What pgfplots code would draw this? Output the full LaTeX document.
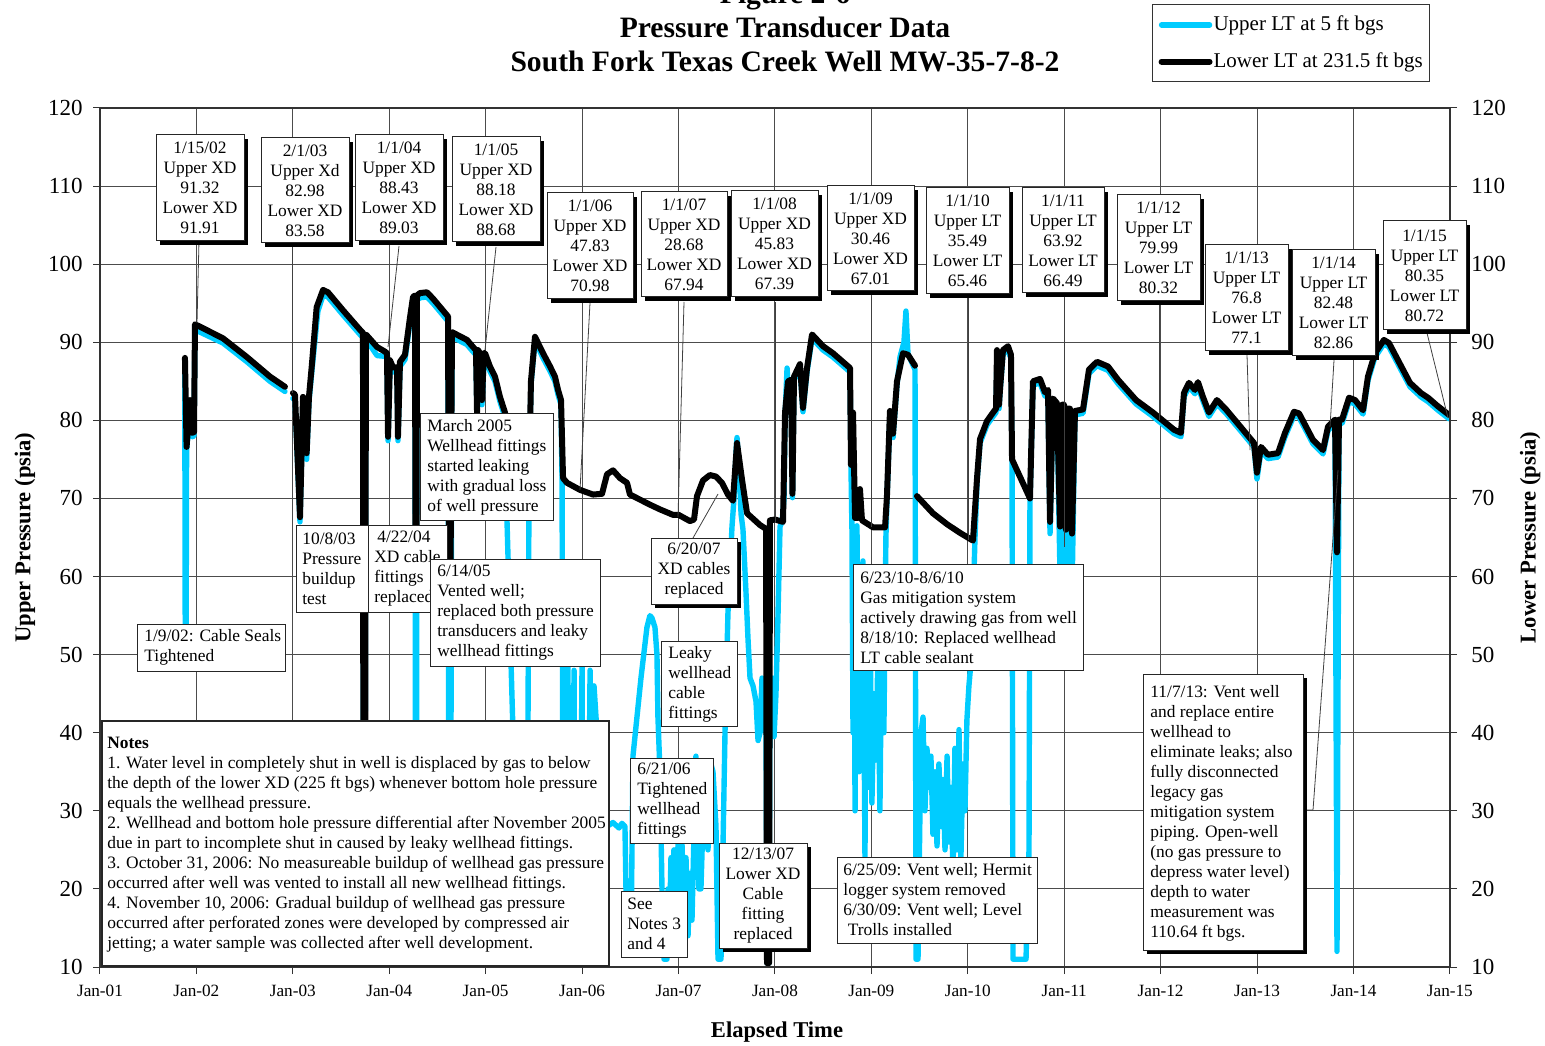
\documentclass[border=0pt]{standalone}
\usepackage{fontspec}
\setmainfont{Liberation Serif}
\usepackage{pgfplots}
\pgfplotsset{compat=1.18}
\definecolor{upc}{RGB}{0,204,255}
\newcommand{\ann}{\fontsize{8.7}{10}\selectfont}
\tikzset{
  bxs/.style={draw=black!85, fill=white, line width=0.5pt},
  annc/.style={font=\ann, align=center, inner sep=0pt},
  annl/.style={font=\ann, align=left, anchor=west, inner sep=0pt},
  ptr/.style={draw=black!75, line width=0.4pt}
}
\newcommand{\shbox}[4]{\fill[black] ({#1+4},{#2+4}) rectangle ({#3+4},{#4+4}); \draw[bxs] (#1,#2) rectangle (#3,#4);}
\newcommand{\plbox}[4]{\draw[bxs] (#1,#2) rectangle (#3,#4);}
\begin{document}
\begin{tikzpicture}
\useasboundingbox (-50pt,-39pt) rectangle (722.5pt,483.5pt);
\begin{axis}[
  at={(0,0)}, anchor=south west, scale only axis, width=675pt, height=429.5pt,
  xmin=2001, xmax=2015, ymin=10, ymax=120,
  xtick={2001,2002,...,2015},
  xticklabels={Jan-01,Jan-02,Jan-03,Jan-04,Jan-05,Jan-06,Jan-07,Jan-08,Jan-09,Jan-10,Jan-11,Jan-12,Jan-13,Jan-14,Jan-15},
  ytick={10,20,...,120},
  grid=major, major grid style={black!70, line width=0.5pt},
  tick align=outside, xtick pos=left, ytick pos=left, major tick length=3.5pt,
  tick style={black!80, line width=0.5pt},
  axis line style={black!80, line width=0.6pt},
  /pgf/number format/assume math mode=true,
  yticklabel={\pgfmathprintnumber{\tick}},
  yticklabel style={font=\fontsize{11.5}{13}\selectfont, xshift=-1.7pt},
  xticklabel style={font=\fontsize{8.6}{10}\selectfont, yshift=-2pt},
  ylabel={\textbf{Upper Pressure (psia)}},
  ylabel style={font=\fontsize{11.3}{13}\selectfont, at={(axis description cs:-0.0556,0.5)}, anchor=center},
  xlabel={\textbf{Elapsed Time}},
  xlabel style={font=\fontsize{11.3}{13}\selectfont, at={(axis description cs:0.5015,-0.0757)}, anchor=center},
  unbounded coords=jump,
  legend style={at={(0.7793,1.1205)}, anchor=north west, draw=black!80, line width=0.5pt, fill=white,
    font=\fontsize{10.5}{12}\selectfont, inner xsep=3pt, inner ysep=4pt, row sep=6.5pt,
    nodes={inner xsep=0.5pt, inner ysep=1.5pt}},
  legend cell align=left,
  legend image code/.code={\draw[#1] (0pt,0pt) -- (24pt,0pt);}
]
\addplot[upc, line width=2.7pt, line join=round, line cap=round] coordinates {
(2001.879,87.5)(2001.884,52)(2001.893,52)(2001.898,76.1)(2001.933,82.1)(2001.951,77.9)(2001.975,78.0)(2001.985,91.5)
(2002.037,91.3)(2002.276,89.9)(2002.524,87.5)(2002.763,85.0)(2002.918,83.7)(2002.95,nan)
(2003.001,82.8)(2003.022,82.7)(2003.074,67.0)(2003.105,82.4)(2003.126,82.0)(2003.143,75.0)(2003.167,82.4)(2003.195,86.0)
(2003.247,92.5)(2003.260,94.0)(2003.313,96.0)(2003.364,95.8)(2003.520,93.5)(2003.696,91.0)(2003.727,90.6)(2003.732,20)
(2003.748,20)(2003.758,90.4)(2003.873,88.3)(2003.955,88.2)(2003.976,88.0)(2003.987,77.4)(2004.007,87.1)(2004.038,86.2)
(2004.080,86.2)(2004.090,77.4)(2004.111,86.9)(2004.163,87.8)(2004.215,92.6)(2004.246,95.2)(2004.267,95.4)(2004.272,15)
(2004.282,15)(2004.287,95.4)(2004.318,95.7)(2004.391,95.8)(2004.453,95.0)(2004.609,92.7)(2004.619,15)(2004.635,15)
(2004.650,90.7)(2004.806,89.7)(2004.868,88.8)(2004.899,88.4)(2004.910,80.4)(2004.920,88.4)(2004.941,88.0)(2004.961,82.0)
(2004.982,88.0)(2004.993,88.0)(2005.044,86.3)(2005.096,85.0)(2005.148,82.4)(2005.200,80.4)(2005.221,67)(2005.283,40)
(2005.304,15)(2005.418,15)(2005.438,40)(2005.449,71.5)(2005.469,84.5)(2005.511,90.2)(2005.594,88.0)(2005.667,86.3)
(2005.718,85.0)(2005.750,83.3)(2005.781,82.0)(2005.792,72)(2005.802,15)(2005.833,15)(2005.853,48.5)(2005.864,15)
(2005.895,15)(2005.916,48)(2005.926,15)(2005.978,15)(2005.999,49)(2006.009,15)(2006.061,15)(2006.082,48)(2006.092,15)
(2006.123,46)(2006.154,40)(2006.185,28)(2006.258,28)(2006.320,28.5)(2006.382,27.8)(2006.413,28.4)(2006.444,28)
(2006.465,12)(2006.506,12)(2006.527,37)(2006.610,47)(2006.672,53.5)(2006.703,55)(2006.724,54.7)(2006.755,53.5)
(2006.776,50)(2006.786,42)(2006.807,35)(2006.828,20)(2006.849,11)(2006.880,11)(2006.890,20)(2006.901,12)(2006.921,24)
(2006.932,14)(2006.952,25)(2006.963,15)(2006.984,23)(2007.004,28)(2007.025,17)(2007.035,26)(2007.056,17)(2007.077,24)
(2007.098,14)(2007.118,22)(2007.139,16)(2007.160,27)(2007.180,37)(2007.191,30)(2007.211,20)(2007.232,20)(2007.263,33)
(2007.305,25)(2007.336,36)(2007.357,35)(2007.388,28)(2007.409,11)(2007.430,11)(2007.440,11)(2007.482,40.4)(2007.512,55.3)
(2007.554,66.4)(2007.575,70)(2007.596,76)(2007.606,77.8)(2007.627,74)(2007.648,68)(2007.668,66)(2007.699,58)(2007.720,52)
(2007.741,47)(2007.772,46)(2007.803,44)(2007.824,39)(2007.845,40)(2007.865,47)(2007.886,43)(2007.907,40)(2007.917,10.5)
(2007.938,10.5)(2007.948,45)(2007.969,47)(2007.990,39.5)(2008.010,45)(2008.031,55)(2008.052,66.4)(2008.073,67)(2008.094,70)
(2008.104,80.5)(2008.125,86.7)(2008.135,84.5)(2008.166,84.7)(2008.181,70.1)(2008.197,85.1)(2008.259,86.7)(2008.290,81.1)
(2008.332,86.2)(2008.384,90.5)(2008.498,89.0)(2008.601,88.1)(2008.778,86.2)(2008.788,73.8)(2008.798,66)(2008.809,40)
(2008.819,66)(2008.830,30)(2008.850,66.5)(2008.871,35)(2008.881,60)(2008.902,39)(2008.912,62)(2008.933,24)(2008.943,50)
(2008.964,33)(2008.985,55)(2009.005,31)(2009.026,45)(2009.046,36.5)(2009.067,50)(2009.088,30)(2009.108,55)(2009.129,40)
(2009.150,65)(2009.161,69.8)(2009.192,80.7)(2009.224,77.8)(2009.265,84.5)(2009.296,88.1)(2009.337,90)(2009.358,94)
(2009.379,88.5)(2009.452,86.5)(2009.462,11)(2009.483,11)(2009.514,40)(2009.535,42)(2009.555,30)(2009.576,38)(2009.597,33)
(2009.617,37)(2009.638,27)(2009.659,35)(2009.680,25.5)(2009.700,36)(2009.721,28)(2009.742,34)(2009.763,25)(2009.784,37)
(2009.804,26)(2009.825,33)(2009.846,22)(2009.866,38)(2009.887,25)(2009.908,40.4)(2009.928,24)(2009.949,36)(2009.970,30)
(2009.990,41.6)(2010.011,46)(2010.032,49)(2010.053,56)(2010.074,65)(2010.095,72.1)(2010.126,77.1)(2010.198,79.4)
(2010.261,80.5)(2010.292,81.0)(2010.302,88.5)(2010.323,81.5)(2010.333,83.4)(2010.364,88.5)(2010.416,89.0)(2010.447,87.9)
(2010.458,74.5)(2010.468,11)(2010.603,11)(2010.634,25)(2010.644,69.5)(2010.675,84.5)(2010.748,84.8)(2010.800,83.1)
(2010.831,83.4)(2010.852,65.5)(2010.883,82.3)(2010.924,81.7)(2010.956,60)(2010.976,81.5)(2010.997,81.5)(2011.017,58)
(2011.038,81.0)(2011.059,81.0)(2011.080,58)(2011.111,80.7)(2011.194,80.9)(2011.256,86.0)(2011.339,87.0)(2011.453,86.4)
(2011.557,84.7)(2011.744,82.1)(2011.920,80.5)(2012.138,78.3)(2012.210,77.9)(2012.241,83.0)(2012.293,84.3)(2012.355,83.4)
(2012.386,84.4)(2012.438,82.5)(2012.500,80.5)(2012.583,82.1)(2012.677,80.9)(2012.853,78.3)(2012.967,76.6)(2012.998,72.5)
(2013.040,76.1)(2013.112,75.1)(2013.216,75.3)(2013.289,77.9)(2013.382,80.6)(2013.434,80.4)(2013.579,77.0)(2013.683,75.7)
(2013.735,78.7)(2013.807,79.6)(2013.828,12)(2013.849,79.6)(2013.880,79.6)(2013.953,82.4)(2014.015,82.1)(2014.098,80.8)
(2014.149,85.1)(2014.222,88.1)(2014.315,89.8)(2014.367,89.4)(2014.512,86.0)(2014.585,84.3)(2014.699,83.0)(2014.772,82.4)
(2014.875,81.3)(2014.990,80.2)
};
\addlegendentry{Upper LT at 5 ft bgs}
\addplot[black, line width=3pt, line join=round, line cap=round] coordinates {
(2001.881,88.0)(2001.898,76.6)(2001.933,82.6)(2001.951,78.4)(2001.975,78.5)(2001.985,92.3)(2002.037,92.0)(2002.276,90.5)
(2002.524,88.1)(2002.763,85.6)(2002.918,84.3)(2002.95,nan)(2003.001,83.5)(2003.022,83.3)(2003.074,67.6)(2003.105,83.0)
(2003.126,82.6)(2003.143,75.8)(2003.167,83.0)(2003.195,86.8)(2003.247,94.5)(2003.313,96.7)(2003.364,96.4)(2003.520,94.1)
(2003.696,91.6)(2003.727,91.2)(2003.732,20)(2003.748,20)(2003.758,91.0)(2003.873,89.4)(2003.955,88.8)(2003.976,88.6)
(2003.987,77.9)(2004.007,87.7)(2004.038,86.8)(2004.080,86.8)(2004.090,77.9)(2004.111,87.5)(2004.163,88.4)(2004.215,93.2)
(2004.246,95.8)(2004.267,96.0)(2004.272,58)(2004.282,58)(2004.287,96.0)(2004.318,96.3)(2004.391,96.4)(2004.453,95.6)
(2004.609,93.3)(2004.619,60)(2004.635,60)(2004.650,91.3)(2004.806,90.3)(2004.868,89.4)(2004.899,89.0)(2004.910,81.0)
(2004.920,89.0)(2004.941,88.6)(2004.961,82.6)(2004.982,88.6)(2004.993,88.6)(2005.044,86.9)(2005.096,85.6)(2005.148,83.0)
(2005.200,81.0)(2005.221,72)(2005.3,nan)(2005.449,72)(2005.469,85)(2005.511,90.7)(2005.594,88.6)(2005.667,86.9)
(2005.718,85.6)(2005.750,83.9)(2005.781,82.6)(2005.802,72.6)(2005.843,72.0)(2005.978,71.1)(2006.113,70.5)(2006.206,70.6)
(2006.258,73.1)(2006.320,73.6)(2006.393,72.6)(2006.465,72.0)(2006.496,70.5)(2006.704,69.2)(2006.807,68.6)(2006.942,67.9)
(2007.000,67.9)(2007.118,67.1)(2007.160,67.3)(2007.191,70.3)(2007.253,72.3)(2007.325,73.0)(2007.388,72.8)(2007.450,72.0)
(2007.512,70.5)(2007.564,69.7)(2007.606,77.1)(2007.658,72.4)(2007.710,68.1)(2007.844,66.6)(2007.907,66.1)(2007.917,10.5)
(2007.938,10.5)(2007.948,67.2)(2008.000,67.3)(2008.083,67.0)(2008.104,81.0)(2008.135,85.0)(2008.166,85.2)(2008.181,70.6)
(2008.197,85.6)(2008.259,87.2)(2008.290,81.6)(2008.332,86.7)(2008.384,91.0)(2008.498,89.5)(2008.601,88.6)(2008.778,86.7)
(2008.788,74.3)(2008.809,81.0)(2008.830,67.5)(2008.861,67.5)(2008.881,71.2)(2008.902,67.2)(2009.016,66.3)(2009.141,66.3)
(2009.161,70.3)(2009.192,81.2)(2009.224,78.3)(2009.265,85.0)(2009.327,88.6)(2009.379,88.4)(2009.452,87.0)(2009.46,nan)
(2009.472,70.3)(2009.638,68.1)(2009.784,66.7)(2009.918,65.6)(2010.053,64.6)(2010.095,72.6)(2010.126,77.6)(2010.198,79.9)
(2010.261,81.0)(2010.292,81.5)(2010.302,89.0)(2010.323,82.0)(2010.333,83.9)(2010.364,89.0)(2010.416,89.5)(2010.447,88.4)
(2010.458,75.0)(2010.644,70.0)(2010.675,85.0)(2010.748,85.3)(2010.800,83.6)(2010.831,83.9)(2010.852,67.0)(2010.883,82.8)
(2010.924,82.2)(2010.956,66.4)(2010.976,82.0)(2010.997,82.0)(2011.017,66.0)(2011.038,81.5)(2011.059,81.5)(2011.080,65.5)
(2011.111,81.2)(2011.194,81.4)(2011.256,86.5)(2011.339,87.5)(2011.453,86.9)(2011.557,85.2)(2011.744,82.6)(2011.920,81.0)
(2012.138,78.8)(2012.210,78.4)(2012.241,83.5)(2012.293,84.8)(2012.355,83.9)(2012.386,84.9)(2012.438,83.0)(2012.500,81.0)
(2012.583,82.6)(2012.677,81.4)(2012.853,78.8)(2012.967,77.1)(2012.998,73.3)(2013.040,76.6)(2013.112,75.6)(2013.216,75.8)
(2013.289,78.4)(2013.382,81.1)(2013.434,80.9)(2013.579,77.5)(2013.683,76.2)(2013.735,79.2)(2013.807,80.1)(2013.828,63.1)
(2013.849,80.1)(2013.880,80.1)(2013.953,82.9)(2014.015,82.6)(2014.098,81.3)(2014.149,85.6)(2014.222,88.6)(2014.315,90.3)
(2014.367,89.9)(2014.512,86.5)(2014.585,84.8)(2014.699,83.5)(2014.772,82.9)(2014.875,81.8)(2014.990,80.7)
};
\addlegendentry{Lower LT at 231.5 ft bgs}
\end{axis}
\begin{axis}[
  at={(0,0)}, anchor=south west, scale only axis, width=675pt, height=429.5pt,
  xmin=2001, xmax=2015, ymin=10, ymax=120,
  axis x line=none, axis y line*=right,
  ytick={10,20,...,120}, tick align=outside, major tick length=3.5pt,
  tick style={black!80, line width=0.5pt},
  y axis line style={black!80, line width=0.6pt},
  /pgf/number format/assume math mode=true,
  yticklabel={\pgfmathprintnumber{\tick}},
  yticklabel style={font=\fontsize{11.5}{13}\selectfont, xshift=3.7pt},
  ylabel={\textbf{Lower Pressure (psia)}},
  ylabel style={font=\fontsize{11.3}{13}\selectfont, at={(axis description cs:1.0593,0.5)}, anchor=center}
]
\addplot[draw=none] coordinates {(2001,10)};
\end{axis}
\begin{scope}[shift={(-50pt,483.5pt)}, x=0.5pt, y=-0.5pt]
% titles
\node[font=\fontsize{14.8}{17}\selectfont\bfseries, anchor=base] at (785,4) {Figure 2-6};
\node[font=\fontsize{14.8}{17}\selectfont\bfseries, anchor=base] at (785,38) {Pressure Transducer Data};
\node[font=\fontsize{14.8}{17}\selectfont\bfseries, anchor=base] at (785,72) {South Fork Texas Creek Well MW-35-7-8-2};
% pointers
\draw[ptr] (199,241) -- (197,323);
\draw[ptr] (292,243) -- (292,393);
\draw[ptr] (399,246) -- (388,347);
\draw[ptr] (496,247) -- (485,350);
\draw[ptr] (590,303) -- (580,490);
\draw[ptr] (684,302) -- (678,517);
\draw[ptr] (775,302) -- (775,523);
\draw[ptr] (871,297) -- (871,527);
\draw[ptr] (968,298) -- (968,540);
\draw[ptr] (1064,298) -- (1064,547);
\draw[ptr] (1159,305) -- (1159,420);
\draw[ptr] (1247,355) -- (1250,450);
\draw[ptr] (1334,360) -- (1330,427);
\draw[ptr] (1427,333) -- (1448,418);
\draw[ptr] (693,538) -- (718,494);
\draw[ptr] (1307,810) -- (1313,810) -- (1338,470);
% top boxes
\shbox{156}{135}{244}{241} \node[annc] at (200,188) {1/15/02\\Upper XD\\91.32\\Lower XD\\91.91};
\shbox{261}{138}{349}{243} \node[annc] at (305,190.5) {2/1/03\\Upper Xd\\82.98\\Lower XD\\83.58};
\shbox{355}{135}{443}{241} \node[annc] at (399,188) {1/1/04\\Upper XD\\88.43\\Lower XD\\89.03};
\shbox{452}{137}{540}{242} \node[annc] at (496,189.5) {1/1/05\\Upper XD\\88.18\\Lower XD\\88.68};
\shbox{547}{193}{633}{299} \node[annc] at (590,246) {1/1/06\\Upper XD\\47.83\\Lower XD\\70.98};
\shbox{641}{192}{727}{297} \node[annc] at (684,244.5) {1/1/07\\Upper XD\\28.68\\Lower XD\\67.94};
\shbox{731}{191}{818}{297} \node[annc] at (774.5,244) {1/1/08\\Upper XD\\45.83\\Lower XD\\67.39};
\shbox{827}{186}{914}{291} \node[annc] at (870.5,238.5) {1/1/09\\Upper XD\\30.46\\Lower XD\\67.01};
\shbox{926}{188}{1009}{294} \node[annc] at (967.5,241) {1/1/10\\Upper LT\\35.49\\Lower LT\\65.46};
\shbox{1022}{188}{1104}{293} \node[annc] at (1063,240.5) {1/1/11\\Upper LT\\63.92\\Lower LT\\66.49};
\shbox{1117}{195}{1200}{301} \node[annc] at (1158.5,248) {1/1/12\\Upper LT\\79.99\\Lower LT\\80.32};
\shbox{1205}{245}{1288}{351} \node[annc] at (1246.5,298) {1/1/13\\Upper LT\\76.8\\Lower LT\\77.1};
\shbox{1292}{250}{1375}{356} \node[annc] at (1333.5,303) {1/1/14\\Upper LT\\82.48\\Lower LT\\82.86};
\shbox{1383}{221}{1466}{330} \node[annc] at (1424.5,275.5) {1/1/15\\Upper LT\\80.35\\Lower LT\\80.72};
% other boxes
\plbox{137}{624}{285}{671} \node[annl] at (144,647.5) {1/9/02: Cable Seals\\Tightened};
\plbox{296}{525}{368}{612} \node[annl] at (302,568.5) {10/8/03\\Pressure\\buildup\\test};
\plbox{368}{525}{447}{612} \node[annl] at (374,568.5) {\,4/22/04\\XD cable\\fittings\\replaced};
\plbox{430}{559}{600}{666} \node[annl] at (437,612.5) {6/14/05\\Vented well;\\replaced both pressure\\transducers and leaky\\wellhead fittings};
\plbox{420}{414}{553}{520} \node[annl] at (427,467) {March 2005\\Wellhead fittings\\started leaking\\with gradual loss\\of well pressure};
\draw[bxs, line width=1pt] (102,721) rectangle (609,966);
\node[annl] at (107,845) {\textbf{Notes}\\
1. Water level in completely shut in well is displaced by gas to below\\
the depth of the lower XD (225 ft bgs) whenever bottom hole pressure\\
equals the wellhead pressure.\\
2. Wellhead and bottom hole pressure differential after November 2005\\
due in part to incomplete shut in caused by leaky wellhead fittings.\\
3. October 31, 2006: No measureable buildup of wellhead gas pressure\\
occurred after well was vented to install all new wellhead fittings.\\
4. November 10, 2006: Gradual buildup of wellhead gas pressure\\
occurred after perforated zones were developed by compressed air\\
jetting; a water sample was collected after well development.};
\plbox{630}{758}{713}{843} \node[annl] at (637,800.5) {6/21/06\\Tightened\\wellhead\\fittings};
\plbox{621}{891}{687}{957} \node[annl] at (627,924) {See\\Notes 3\\and 4};
\plbox{661}{641}{737}{726} \node[annl] at (668,684) {Leaky\\wellhead\\cable\\fittings};
\shbox{651}{538}{737}{604} \node[annc] at (694,571) {6/20/07\\XD cables\\replaced};
\shbox{719}{843}{807}{948} \node[annc] at (763,896) {12/13/07\\Lower XD\\Cable\\fitting\\replaced};
\plbox{853}{564}{1083}{670} \node[annl] at (860,617.5) {6/23/10-8/6/10\\Gas mitigation system\\actively drawing gas from well\\8/18/10: Replaced wellhead\\LT cable sealant};
\plbox{837}{857}{1037}{943} \node[annl] at (843,900) {6/25/09: Vent well; Hermit\\logger system removed\\6/30/09: Vent well; Level\\\ Trolls installed};
\shbox{1143}{674}{1303}{950} \node[annl] at (1150,813) {11/7/13: Vent well\\and replace entire\\wellhead to\\eliminate leaks; also\\fully disconnected\\legacy gas\\mitigation system\\piping. Open-well\\(no gas pressure to\\depress water level)\\depth to water\\measurement was\\110.64 ft bgs.};
\end{scope}
\end{tikzpicture}
\end{document}
